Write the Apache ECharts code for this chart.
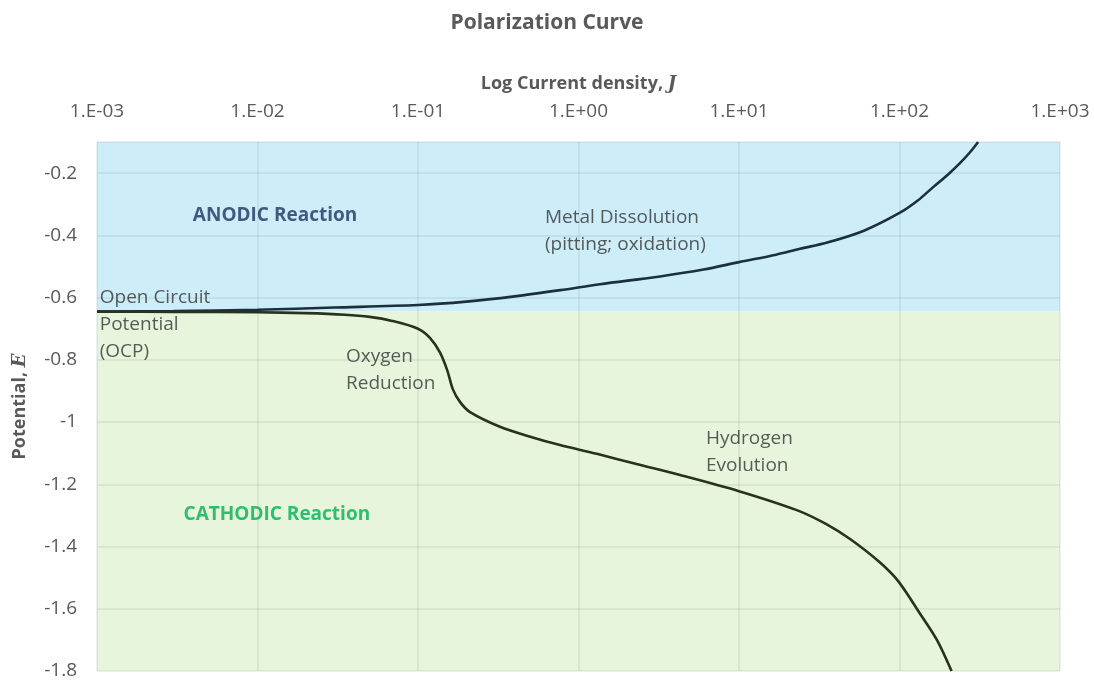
<!DOCTYPE html>
<html>
<head>
<meta charset="utf-8">
<title>Polarization Curve</title>
<script src="https://cdn.jsdelivr.net/npm/echarts@6/dist/echarts.min.js"></script>
<style>
  html, body { margin: 0; padding: 0; background: #ffffff; }
  #chart { width: 1094px; height: 681px; }
</style>
</head>
<body>
<div id="chart"></div>
<script>
// Anodic branch: current density J and potential E
const anodicJ = [0.001, 0.003, 0.01, 0.03, 0.1, 0.2, 0.4, 0.77, 1.36, 3.22, 6, 10, 17, 24, 35, 60, 100, 130, 162, 200, 238, 275, 309];
const anodicE = [-0.645, -0.643, -0.639, -0.632, -0.624, -0.613, -0.596, -0.576, -0.557, -0.532, -0.510, -0.486, -0.462, -0.443, -0.424, -0.385, -0.328, -0.288, -0.245, -0.205, -0.168, -0.133, -0.1];

// Cathodic branch
const cathodicJ = [0.001, 0.003, 0.01, 0.02, 0.035, 0.05, 0.069, 0.1, 0.119, 0.137, 0.152, 0.165, 0.183, 0.211, 0.324, 0.5, 0.767, 1.3, 2.3, 4.29, 10, 22.9, 35, 49.2, 75, 98.4, 134, 171, 211];
const cathodicE = [-0.645, -0.646, -0.647, -0.650, -0.655, -0.662, -0.675, -0.700, -0.730, -0.776, -0.833, -0.895, -0.936, -0.968, -1.015, -1.047, -1.074, -1.102, -1.135, -1.170, -1.222, -1.283, -1.328, -1.376, -1.450, -1.512, -1.615, -1.700, -1.800];

// Open circuit potential separating the anodic and cathodic regions
const ocp = -0.645;

// Axis ranges
const jRange = [0.001, 1000];
const eRange = [-1.8, -0.1];
const eStep = 0.2;

// Region labels and notes, anchored in data coordinates
const noteTexts = ['ANODIC Reaction', 'CATHODIC Reaction', 'Metal Dissolution\n(pitting; oxidation)', 'Open Circuit\nPotential\n(OCP)', 'Oxygen\nReduction', 'Hydrogen\nEvolution'];
const noteJ = [0.01286, 0.0132, 0.618, 0.00104, 0.0356, 6.22];
const noteE = [-0.338, -1.296, -0.385, -0.688, -0.833, -1.096];

const FONT = 'Open Sans';
const GREY = '#595959';

function pairs(xs, ys) { return xs.map((x, i) => [x, ys[i]]); }

function jLabel(v) {
  const p = Math.round(Math.log10(v));
  const s = p < 0 ? '-' : '+';
  const a = Math.abs(p);
  return '1.E' + s + (a < 10 ? '0' + a : a);
}

const noteStyles = [
  { color: '#1c3360', fontWeight: 'bold', fontSize: 19, align: 'center' },
  { color: '#00b050', fontWeight: 'bold', fontSize: 19, align: 'center' },
  { color: '#333333', fontSize: 19, align: 'left' },
  { color: '#333333', fontSize: 19, align: 'left' },
  { color: '#333333', fontSize: 19, align: 'left' },
  { color: '#333333', fontSize: 19, align: 'left' }
];

const notes = noteTexts.map((t, i) => ({
  value: [noteJ[i], noteE[i]],
  label: Object.assign({
    show: true,
    formatter: t,
    position: 'inside',
    fontFamily: FONT,
    lineHeight: 27,
    verticalAlign: 'middle'
  }, noteStyles[i])
}));

const gridLine = { show: true, lineStyle: { color: 'rgba(90,120,120,0.14)', width: 1.5 } };

const chart = echarts.init(document.getElementById('chart'), null, { renderer: 'canvas' });

chart.setOption({
  animation: false,
  backgroundColor: '#ffffff',
  title: {
    text: 'Polarization Curve',
    left: 'center',
    top: 8,
    textStyle: { fontFamily: FONT, fontSize: 21, fontWeight: 'bold', color: GREY }
  },
  grid: { left: 97, right: 34, top: 142, bottom: 10, containLabel: false, outerBoundsMode: 'none' },
  xAxis: {
    type: 'log',
    logBase: 10,
    position: 'top',
    min: jRange[0],
    max: jRange[1],
    splitNumber: 6,
    z: 2,
    name: '{n|Log Current density, }{j|J}',
    nameLocation: 'middle',
    nameGap: 49,
    nameTextStyle: {
      rich: {
        n: { fontFamily: FONT, fontSize: 18, fontWeight: 'bold', color: GREY },
        j: { fontFamily: 'DejaVu Serif', fontSize: 18, fontWeight: 'bold', fontStyle: 'italic', color: GREY }
      }
    },
    axisLine: { show: false },
    axisTick: { show: false },
    axisLabel: {
      margin: 21,
      fontFamily: FONT,
      fontSize: 19,
      color: GREY,
      formatter: jLabel,
      showMinLabel: true,
      showMaxLabel: true
    },
    splitLine: gridLine,
    minorTick: { show: false }
  },
  yAxis: {
    type: 'value',
    min: eRange[0],
    max: eRange[1],
    interval: eStep,
    z: 2,
    name: '{n|Potential, }{e|E}',
    nameLocation: 'middle',
    nameRotate: 90,
    nameGap: 68,
    nameTextStyle: {
      rich: {
        n: { fontFamily: FONT, fontSize: 18, fontWeight: 'bold', color: GREY },
        e: { fontFamily: 'DejaVu Serif', fontSize: 18, fontWeight: 'bold', fontStyle: 'italic', color: GREY }
      }
    },
    axisLine: { show: false },
    axisTick: { show: false },
    axisLabel: {
      margin: 20,
      fontFamily: FONT,
      fontSize: 19,
      color: GREY,
      formatter: function (v) {
        if (Math.abs(v - eRange[1]) < 1e-6) return '';
        return String(Math.round(v * 10) / 10);
      }
    },
    splitLine: gridLine
  },
  series: [
    {
      name: 'regions',
      type: 'line',
      z: 1,
      data: [],
      silent: true,
      markArea: {
        silent: true,
        data: [
          [{ yAxis: eRange[1], itemStyle: { color: '#cdeef9' } }, { yAxis: ocp }],
          [{ yAxis: ocp, itemStyle: { color: '#e7f5dd' } }, { yAxis: eRange[0] }]
        ]
      }
    },
    {
      name: 'Anodic',
      type: 'line',
      z: 3,
      data: pairs(anodicJ, anodicE),
      smooth: 0.3,
      showSymbol: false,
      lineStyle: { color: '#1b2f3c', width: 2.6 },
      clip: true
    },
    {
      name: 'Cathodic',
      type: 'line',
      z: 3,
      data: pairs(cathodicJ, cathodicE),
      smooth: 0.3,
      showSymbol: false,
      lineStyle: { color: '#27321f', width: 2.6 },
      clip: true
    },
    {
      name: 'notes',
      type: 'scatter',
      z: 4,
      symbolSize: 0,
      silent: true,
      data: notes
    }
  ]
});
</script>
</body>
</html>
